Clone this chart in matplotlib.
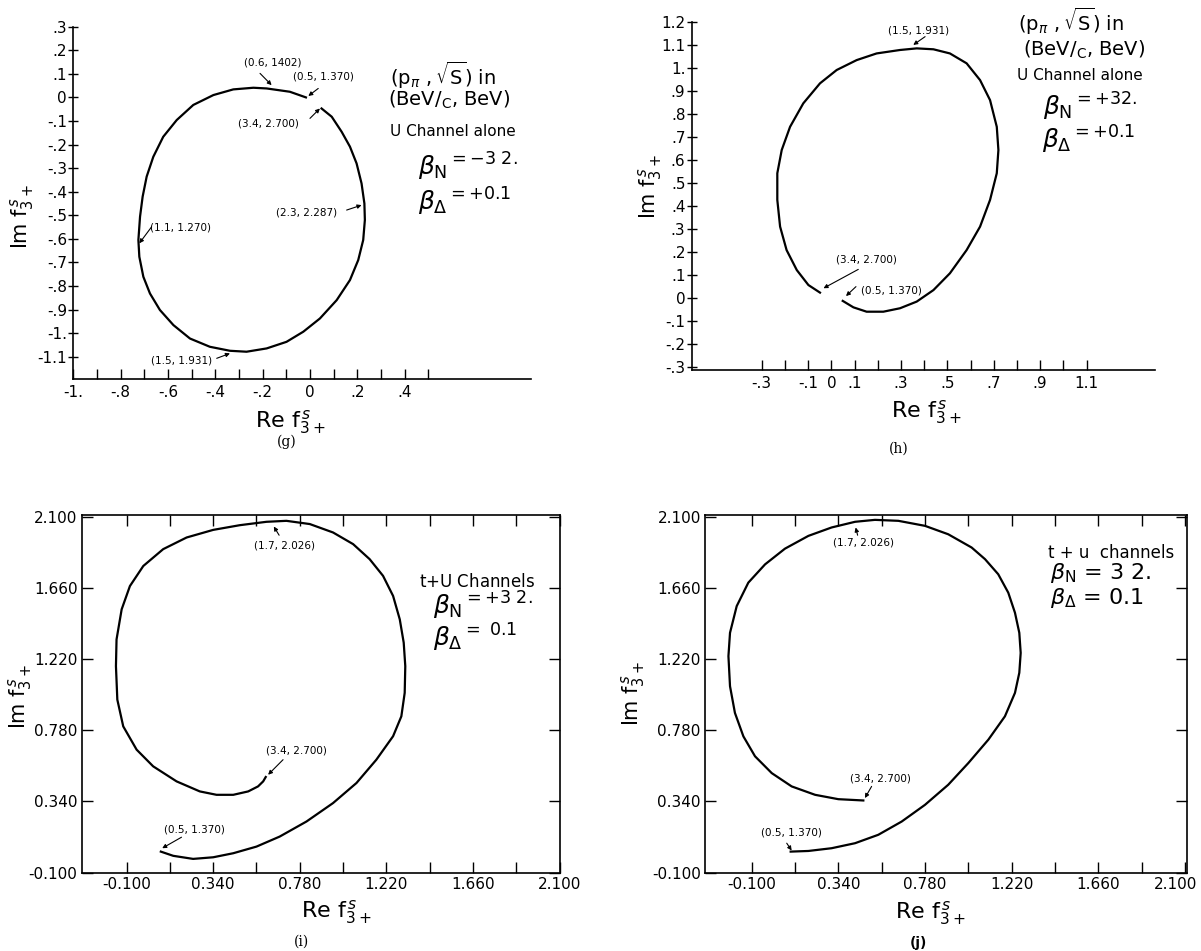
import matplotlib
matplotlib.use("Agg")
import matplotlib.pyplot as plt
import matplotlib.transforms as mtransforms

plt.rcParams["font.family"] = ["DejaVu Sans"]
plt.rcParams["mathtext.fontset"] = "dejavusans"

# ---- panel (g): u channel alone, beta_N = -32
g_re = [-0.017, -0.085, -0.183, -0.239, -0.324, -0.408, -0.493, -0.563, -0.62, -0.662,
        -0.69, -0.707, -0.718, -0.725, -0.721, -0.704, -0.676, -0.634, -0.577, -0.507,
        -0.423, -0.338, -0.268, -0.183, -0.099, -0.028, 0.042, 0.113, 0.169, 0.204,
        0.225, 0.232, 0.23, 0.218, 0.197, 0.169, 0.134, 0.092, 0.049]
g_im = [0.0, 0.024, 0.038, 0.041, 0.034, 0.01, -0.032, -0.096, -0.167, -0.252,
        -0.336, -0.421, -0.506, -0.605, -0.676, -0.761, -0.832, -0.902, -0.966, -1.023,
        -1.058, -1.075, -1.079, -1.065, -1.037, -0.994, -0.938, -0.86, -0.775, -0.69,
        -0.605, -0.52, -0.45, -0.365, -0.28, -0.209, -0.146, -0.082, -0.047]
g_xticks = [-1.0, -0.9, -0.8, -0.7, -0.6, -0.5, -0.4, -0.3, -0.2, -0.1, 0.0, 0.1, 0.2, 0.3, 0.4, 0.5]
g_xlabels = ["-1.", "", "-.8", "", "-.6", "", "-.4", "", "-.2", "", "0", "", ".2", "", ".4", ""]
g_yticks = [0.3, 0.2, 0.1, 0.0, -0.1, -0.2, -0.3, -0.4, -0.5, -0.6, -0.7, -0.8, -0.9, -1.0, -1.1]
g_ylabels = [".3", ".2", ".1", "0", "-.1", "-.2", "-.3", "-.4", "-.5", "-.6", "-.7", "-.8", "-.9", "-1.", "-1.1"]

# ---- panel (h): u channel alone, beta_N = +32
h_re = [0.049, 0.095, 0.152, 0.224, 0.296, 0.368, 0.44, 0.511, 0.583, 0.641, 0.684, 0.713,
        0.72, 0.713, 0.684, 0.641, 0.583, 0.511, 0.44, 0.368, 0.296, 0.195, 0.109, 0.023,
        -0.049, -0.121, -0.178, -0.214, -0.233, -0.233, -0.221, -0.193, -0.149, -0.099, -0.049]
h_im = [-0.014, -0.042, -0.061, -0.061, -0.046, -0.017, 0.033, 0.106, 0.207, 0.309, 0.425, 0.541,
        0.642, 0.743, 0.859, 0.946, 1.019, 1.062, 1.08, 1.084, 1.077, 1.062, 1.033, 0.99,
        0.932, 0.845, 0.743, 0.642, 0.541, 0.425, 0.309, 0.207, 0.12, 0.055, 0.022]
h_xticks = [-0.3, -0.2, -0.1, 0.0, 0.1, 0.2, 0.3, 0.4, 0.5, 0.6, 0.7, 0.8, 0.9, 1.0, 1.1]
h_xlabels = ["-.3", "", "-.1", "0", ".1", "", ".3", "", ".5", "", ".7", "", ".9", "", "1.1"]
h_yticks = [1.2, 1.1, 1.0, 0.9, 0.8, 0.7, 0.6, 0.5, 0.4, 0.3, 0.2, 0.1, 0.0, -0.1, -0.2, -0.3]
h_ylabels = ["1.2", "1.1", "1.", ".9", ".8", ".7", ".6", ".5", ".4", ".3", ".2", ".1", "0", "-.1", "-.2", "-.3"]

# ---- panel (i): t+u channels, beta_N = +32
i_re = [0.074, 0.137, 0.238, 0.34, 0.442, 0.56, 0.678, 0.814, 0.949, 1.068, 1.169, 1.254,
        1.296, 1.313, 1.316, 1.308, 1.288, 1.254, 1.203, 1.135, 1.051, 0.949, 0.831, 0.712,
        0.611, 0.475, 0.34, 0.205, 0.086, -0.015, -0.083, -0.125, -0.151, -0.154, -0.147,
        -0.117, -0.049, 0.035, 0.154, 0.272, 0.357, 0.442, 0.518, 0.568, 0.594, 0.607]
i_im = [0.03, 0.004, -0.015, -0.005, 0.02, 0.061, 0.123, 0.216, 0.33, 0.454, 0.598, 0.743,
        0.866, 1.011, 1.176, 1.321, 1.465, 1.61, 1.734, 1.837, 1.93, 2.002, 2.054, 2.074,
        2.068, 2.047, 2.018, 1.971, 1.899, 1.795, 1.671, 1.527, 1.341, 1.176, 0.969,
        0.804, 0.66, 0.557, 0.464, 0.402, 0.381, 0.381, 0.402, 0.433, 0.464, 0.491]

# ---- panel (j): t+u channels, beta_N = 32
j_re = [0.098, 0.188, 0.306, 0.425, 0.543, 0.662, 0.78, 0.898, 1.0, 1.102, 1.186, 1.237,
        1.259, 1.266, 1.259, 1.237, 1.203, 1.152, 1.085, 1.017, 0.898, 0.78, 0.645, 0.526,
        0.425, 0.306, 0.188, 0.069, -0.032, -0.117, -0.176, -0.21, -0.218, -0.21, -0.185,
        -0.142, -0.083, 0.002, 0.103, 0.222, 0.34, 0.467]
j_im = [0.03, 0.034, 0.051, 0.082, 0.134, 0.216, 0.319, 0.443, 0.577, 0.722, 0.866, 1.011,
        1.135, 1.258, 1.382, 1.506, 1.63, 1.744, 1.837, 1.909, 1.991, 2.043, 2.074, 2.08,
        2.068, 2.033, 1.981, 1.902, 1.805, 1.692, 1.547, 1.382, 1.238, 1.052, 0.887,
        0.742, 0.619, 0.515, 0.433, 0.381, 0.354, 0.346]

tu_xticks = [-0.1, 0.12, 0.34, 0.56, 0.78, 1.0, 1.22, 1.44, 1.66, 1.88, 2.1]
tu_xlabels = ["-0.100", "", "0.340", "", "0.780", "", "1.220", "", "1.660", "", "2.100"]
tu_yticks = [-0.1, 0.34, 0.78, 1.22, 1.66, 2.1]
tu_ylabels = ["-0.100", "0.340", "0.780", "1.220", "1.660", "2.100"]

ylab = r"Im $\mathrm{f}^{\,s}_{3+}$"
xlab = r"Re $\mathrm{f}^{\,s}_{3+}$"
beta_n = r"$\beta_{\mathrm{N}}$"
beta_d = r"$\beta_{\Delta}$"
kin1 = r"$(\mathrm{p}_{\pi}\ ,\sqrt{\mathrm{S}})$ in"
kin2 = r"(BeV/$_\mathrm{C}$, BeV)"

fig = plt.figure(figsize=(12.01, 9.51), dpi=100)
W, H = 1201, 951


def px_axes(left, right, top, bottom):
    return fig.add_axes([left / W, 1 - bottom / H, (right - left) / W, (bottom - top) / H])


def ftext(x, y, s, **kw):
    fig.text(x / W, 1 - y / H, s, ha="center", va="center", **kw)


def note(ax, s, txt, tail, tip):
    ax.text(txt[0], txt[1], s, fontsize=7.5, ha="center", va="center")
    ax.annotate("", xy=tip, xytext=tail,
                arrowprops=dict(arrowstyle="-|>", lw=0.8, color="black",
                                shrinkA=0, shrinkB=0, mutation_scale=6))


def open_axes(ax):
    ax.spines["top"].set_visible(False)
    ax.spines["right"].set_visible(False)
    ax.spines["left"].set_linewidth(1.2)
    ax.spines["bottom"].set_linewidth(1.2)
    ax.tick_params(axis="x", direction="in", length=7, width=1.0, labelsize=11, pad=4)
    ax.tick_params(axis="y", direction="inout", length=7, width=1.0, labelsize=11, pad=1)


def box_axes(ax):
    for sp in ax.spines.values():
        sp.set_linewidth(1.2)
    ax.tick_params(direction="in", length=8, width=1.0, labelsize=11, pad=3,
                   top=True, right=True)


# (g)
ax = px_axes(73.3, 531, 26.7, 379.3)
ax.plot(g_re, g_im, color="black", lw=1.6)
ax.set_xlim(-1.0, 0.934)
ax.set_ylim(-1.196, 0.3)
ax.set_xticks(g_xticks, g_xlabels)
ax.set_yticks(g_yticks, g_ylabels)
open_axes(ax)
note(ax, "(0.6, 1402)", (-0.158, 0.147), (-0.211, 0.102), (-0.162, 0.052))
note(ax, "(0.5, 1.370)", (0.056, 0.088), (0.035, 0.038), (-0.007, 0.006))
note(ax, "(3.4, 2.700)", (-0.176, -0.11), (0.0, -0.089), (0.042, -0.047))
note(ax, "(2.3, 2.287)", (-0.014, -0.489), (0.155, -0.478), (0.218, -0.457))
note(ax, "(1.1, 1.270)", (-0.549, -0.552), (-0.669, -0.549), (-0.721, -0.619))
note(ax, "(1.5, 1.931)", (-0.542, -1.117), (-0.394, -1.107), (-0.338, -1.086))
ax.text(0.338, 0.095, kin1, fontsize=14, va="center")
ax.text(0.331, -0.011, kin2, fontsize=14, va="center")
ax.text(0.338, -0.146, "U Channel alone", fontsize=11, va="center")
ax.text(0.458, -0.294, beta_n + r"$^{=-3\ 2.}$", fontsize=18, va="center")
ax.text(0.458, -0.443, beta_d + r"$^{=+0.1}$", fontsize=18, va="center")
ftext(22, 216.7, ylab, fontsize=15, rotation=90)
ftext(290, 421.7, xlab, fontsize=16)
ftext(287, 442, "(g)", fontsize=10, family="DejaVu Serif")

# (h)
ax = px_axes(691.7, 1155, 21.7, 370)
ax.plot(h_re, h_im, color="black", lw=1.6)
ax.set_xlim(-0.602, 1.395)
ax.set_ylim(-0.3145, 1.2)
ax.set_xticks(h_xticks, h_xlabels)
ax.set_yticks(h_yticks, h_ylabels)
open_axes(ax)
note(ax, "(1.5, 1.931)", (0.375, 1.161), (0.404, 1.135), (0.353, 1.099))
note(ax, "(3.4, 2.700)", (0.152, 0.164), (0.116, 0.123), (-0.034, 0.041))
note(ax, "(0.5, 1.370)", (0.26, 0.033), (0.106, 0.048), (0.063, 0.007))
ax.text(0.806, 1.2, kin1, fontsize=14, va="center")
ax.text(0.828, 1.077, kin2, fontsize=14, va="center")
ax.text(0.802, 0.968, "U Channel alone", fontsize=11, va="center")
ax.text(0.914, 0.83, beta_n + r"$^{=+32.}$", fontsize=18, va="center")
ax.text(0.907, 0.686, beta_d + r"$^{=+0.1}$", fontsize=18, va="center")
ftext(650, 186.7, ylab, fontsize=15, rotation=90)
ftext(926.7, 411.7, xlab, fontsize=16)
ftext(898.3, 448.3, "(h)", fontsize=10, family="DejaVu Serif")

# (i)
ax = px_axes(81.7, 559.6, 515, 873.3)
ax.plot(i_re, i_im, color="black", lw=1.6)
ax.set_xlim(-0.328, 2.098)
ax.set_ylim(-0.104, 2.11)
ax.set_xticks(tu_xticks, tu_xlabels)
ax.set_yticks(tu_yticks, tu_ylabels)
box_axes(ax)
note(ax, "(1.7, 2.026)", (0.704, 1.923), (0.675, 1.985), (0.648, 2.039))
note(ax, "(3.4, 2.700)", (0.763, 0.656), (0.695, 0.598), (0.619, 0.505))
note(ax, "(0.5, 1.370)", (0.247, 0.165), (0.179, 0.119), (0.081, 0.051))
ax.text(1.386, 1.697, r"t+U $\mathrm{Channels}$", fontsize=12, va="center")
ax.text(1.457, 1.547, beta_n + r"$^{=+3\ 2.}$", fontsize=18, va="center")
ax.text(1.457, 1.351, beta_d + r"$^{=\ 0.1}$", fontsize=18, va="center")
ftext(20, 696.7, ylab, fontsize=15, rotation=90)
ftext(336.7, 911.7, xlab, fontsize=16)
ftext(301.7, 941.7, "(i)", fontsize=10, family="DejaVu Serif")

# (j)
ax = px_axes(705, 1186.5, 515, 873.3)
ax.plot(j_re, j_im, color="black", lw=1.6)
ax.set_xlim(-0.337, 2.108)
ax.set_ylim(-0.104, 2.11)
ax.set_xticks(tu_xticks, tu_xlabels)
ax.set_yticks(tu_yticks, tu_ylabels)
box_axes(ax)
# last x label sits against the figure edge, nudge it left a bit
last = ax.get_xticklabels()[-1]
last.set_transform(last.get_transform() + mtransforms.ScaledTranslation(-9 / 100, 0, fig.dpi_scale_trans))
note(ax, "(1.7, 2.026)", (0.467, 1.94), (0.438, 1.985), (0.428, 2.033))
note(ax, "(3.4, 2.700)", (0.552, 0.484), (0.509, 0.433), (0.475, 0.361))
note(ax, "(0.5, 1.370)", (0.103, 0.148), (0.078, 0.082), (0.103, 0.037))
ax.text(1.406, 1.878, "t + u  channels", fontsize=12, va="center")
ax.text(1.415, 1.754, beta_n + r" = 3 2.", fontsize=16, va="center")
ax.text(1.415, 1.599, beta_d + r" = 0.1", fontsize=16, va="center")
ftext(633, 693.3, ylab, fontsize=15, rotation=90)
ftext(930, 913.3, xlab, fontsize=16)
ftext(918.3, 943.3, "(j)", fontsize=10, fontweight="bold")

fig.savefig("out.png", dpi=100)
